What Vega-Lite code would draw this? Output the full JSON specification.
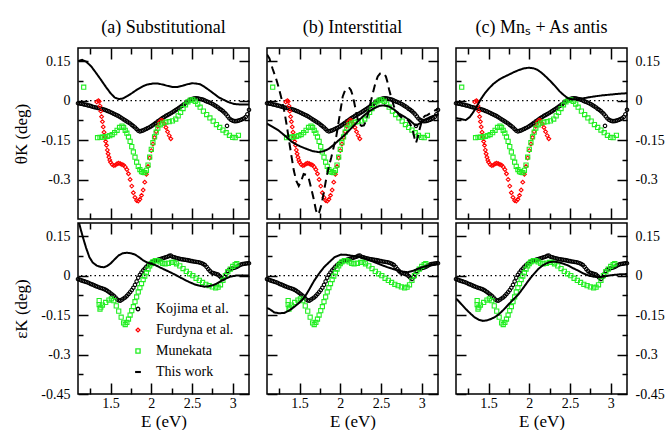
{
"$schema": "https://vega.github.io/schema/vega-lite/v6.json",
"padding": {"left": 12, "top": 18, "right": 2, "bottom": 0},
"config": {
 "font": "Liberation Serif",
 "style": {"guide-label": {"font": "Liberation Serif", "fontSize": 14, "fill": "black"}, "guide-title": {"font": "Liberation Serif", "fontSize": 17, "fill": "black", "fontWeight": "normal"}, "group-title": {"font": "Liberation Serif", "fontSize": 18, "fontWeight": "normal"}},
 "view": {"stroke": "black", "strokeWidth": 1.5},
 "axis": {"domain": false, "grid": false, "tickColor": "black", "tickWidth": 1.5, "labelFont": "Liberation Serif", "labelFontSize": 14, "labelColor": "black", "titleFont": "Liberation Serif", "titleFontSize": 17, "titleFontWeight": "normal", "titleColor": "black", "labelOverlap": false, "labelFlush": false, "minExtent": 0},
 "title": {"font": "Liberation Serif", "fontSize": 18, "fontWeight": "normal", "color": "black", "offset": 10},
 "legend": {"labelFont": "Liberation Serif", "labelFontSize": 14, "labelColor": "black", "rowPadding": 7, "symbolStrokeWidth": 1.3, "padding": 0}
},
"datasets": {
 "expT": [
  {"s":"K","E":1.10,"v":-0.010},{"s":"K","E":1.12,"v":-0.011},{"s":"K","E":1.14,"v":-0.012},{"s":"K","E":1.16,"v":-0.013},{"s":"K","E":1.18,"v":-0.015},{"s":"K","E":1.20,"v":-0.016},{"s":"K","E":1.22,"v":-0.018},{"s":"K","E":1.24,"v":-0.019},{"s":"K","E":1.26,"v":-0.021},{"s":"K","E":1.28,"v":-0.023},{"s":"K","E":1.30,"v":-0.025},{"s":"K","E":1.32,"v":-0.026},{"s":"K","E":1.34,"v":-0.028},{"s":"K","E":1.36,"v":-0.029},{"s":"K","E":1.38,"v":-0.031},{"s":"K","E":1.40,"v":-0.032},{"s":"K","E":1.42,"v":-0.034},{"s":"K","E":1.44,"v":-0.036},{"s":"K","E":1.46,"v":-0.039},{"s":"K","E":1.48,"v":-0.041},{"s":"K","E":1.50,"v":-0.044},{"s":"K","E":1.52,"v":-0.047},{"s":"K","E":1.54,"v":-0.050},{"s":"K","E":1.56,"v":-0.053},{"s":"K","E":1.58,"v":-0.056},{"s":"K","E":1.60,"v":-0.059},{"s":"K","E":1.62,"v":-0.063},{"s":"K","E":1.64,"v":-0.067},{"s":"K","E":1.66,"v":-0.071},{"s":"K","E":1.68,"v":-0.075},{"s":"K","E":1.70,"v":-0.079},{"s":"K","E":1.72,"v":-0.083},{"s":"K","E":1.74,"v":-0.087},{"s":"K","E":1.76,"v":-0.092},{"s":"K","E":1.78,"v":-0.097},{"s":"K","E":1.80,"v":-0.102},{"s":"K","E":1.82,"v":-0.108},{"s":"K","E":1.84,"v":-0.114},{"s":"K","E":1.86,"v":-0.117},{"s":"K","E":1.88,"v":-0.115},{"s":"K","E":1.90,"v":-0.113},{"s":"K","E":1.92,"v":-0.110},{"s":"K","E":1.94,"v":-0.107},{"s":"K","E":1.96,"v":-0.104},{"s":"K","E":1.98,"v":-0.101},{"s":"K","E":2.00,"v":-0.097},{"s":"K","E":2.02,"v":-0.093},{"s":"K","E":2.04,"v":-0.088},{"s":"K","E":2.06,"v":-0.084},{"s":"K","E":2.08,"v":-0.079},{"s":"K","E":2.10,"v":-0.075},{"s":"K","E":2.12,"v":-0.070},{"s":"K","E":2.14,"v":-0.066},{"s":"K","E":2.16,"v":-0.062},{"s":"K","E":2.18,"v":-0.058},{"s":"K","E":2.20,"v":-0.055},{"s":"K","E":2.22,"v":-0.051},{"s":"K","E":2.24,"v":-0.048},{"s":"K","E":2.26,"v":-0.044},{"s":"K","E":2.28,"v":-0.040},{"s":"K","E":2.30,"v":-0.036},{"s":"K","E":2.32,"v":-0.032},{"s":"K","E":2.34,"v":-0.028},{"s":"K","E":2.36,"v":-0.023},{"s":"K","E":2.38,"v":-0.019},{"s":"K","E":2.40,"v":-0.014},{"s":"K","E":2.42,"v":-0.010},{"s":"K","E":2.44,"v":-0.005},{"s":"K","E":2.46,"v":0.000},{"s":"K","E":2.48,"v":0.004},{"s":"K","E":2.50,"v":0.006},{"s":"K","E":2.52,"v":0.008},{"s":"K","E":2.54,"v":0.009},{"s":"K","E":2.56,"v":0.009},{"s":"K","E":2.58,"v":0.008},{"s":"K","E":2.60,"v":0.006},{"s":"K","E":2.62,"v":0.005},{"s":"K","E":2.64,"v":0.003},{"s":"K","E":2.66,"v":0.000},{"s":"K","E":2.68,"v":-0.003},{"s":"K","E":2.70,"v":-0.005},{"s":"K","E":2.72,"v":-0.008},{"s":"K","E":2.74,"v":-0.011},{"s":"K","E":2.76,"v":-0.014},{"s":"K","E":2.78,"v":-0.018},{"s":"K","E":2.80,"v":-0.022},{"s":"K","E":2.82,"v":-0.026},{"s":"K","E":2.84,"v":-0.031},{"s":"K","E":2.86,"v":-0.035},{"s":"K","E":2.88,"v":-0.040},{"s":"K","E":2.90,"v":-0.046},{"s":"K","E":2.92,"v":-0.052},{"s":"K","E":2.93,"v":-0.096},{"s":"K","E":2.94,"v":-0.060},{"s":"K","E":2.96,"v":-0.068},{"s":"K","E":2.98,"v":-0.073},{"s":"K","E":3.00,"v":-0.076},{"s":"K","E":3.02,"v":-0.078},{"s":"K","E":3.04,"v":-0.078},{"s":"K","E":3.06,"v":-0.077},{"s":"K","E":3.08,"v":-0.075},{"s":"K","E":3.10,"v":-0.073},{"s":"K","E":3.12,"v":-0.070},{"s":"K","E":3.14,"v":-0.067},{"s":"K","E":3.16,"v":-0.062},{"s":"K","E":3.18,"v":-0.052},{"s":"K","E":3.20,"v":-0.035},
  {"s":"F","E":1.33,"v":-0.005},{"s":"F","E":1.35,"v":0.0},{"s":"F","E":1.36,"v":-0.003},{"s":"F","E":1.37,"v":-0.02},{"s":"F","E":1.38,"v":-0.04},{"s":"F","E":1.39,"v":-0.061},{"s":"F","E":1.40,"v":-0.08},{"s":"F","E":1.41,"v":-0.10},{"s":"F","E":1.42,"v":-0.12},{"s":"F","E":1.43,"v":-0.138},{"s":"F","E":1.44,"v":-0.155},{"s":"F","E":1.45,"v":-0.17},{"s":"F","E":1.46,"v":-0.188},{"s":"F","E":1.47,"v":-0.202},{"s":"F","E":1.48,"v":-0.215},{"s":"F","E":1.49,"v":-0.226},{"s":"F","E":1.50,"v":-0.234},{"s":"F","E":1.52,"v":-0.243},{"s":"F","E":1.54,"v":-0.247},{"s":"F","E":1.56,"v":-0.245},{"s":"F","E":1.58,"v":-0.240},{"s":"F","E":1.60,"v":-0.238},{"s":"F","E":1.62,"v":-0.240},{"s":"F","E":1.64,"v":-0.243},{"s":"F","E":1.66,"v":-0.245},{"s":"F","E":1.68,"v":-0.252},{"s":"F","E":1.70,"v":-0.262},{"s":"F","E":1.72,"v":-0.278},{"s":"F","E":1.74,"v":-0.300},{"s":"F","E":1.76,"v":-0.325},{"s":"F","E":1.78,"v":-0.350},{"s":"F","E":1.80,"v":-0.368},{"s":"F","E":1.82,"v":-0.380},{"s":"F","E":1.84,"v":-0.382},{"s":"F","E":1.86,"v":-0.375},{"s":"F","E":1.88,"v":-0.360},{"s":"F","E":1.90,"v":-0.340},{"s":"F","E":1.92,"v":-0.310},{"s":"F","E":1.94,"v":-0.280},{"s":"F","E":1.96,"v":-0.250},{"s":"F","E":1.98,"v":-0.218},{"s":"F","E":2.00,"v":-0.190},{"s":"F","E":2.02,"v":-0.165},{"s":"F","E":2.04,"v":-0.140},{"s":"F","E":2.06,"v":-0.118},{"s":"F","E":2.08,"v":-0.098},{"s":"F","E":2.10,"v":-0.082},{"s":"F","E":2.12,"v":-0.074},{"s":"F","E":2.14,"v":-0.076},{"s":"F","E":2.16,"v":-0.088},{"s":"F","E":2.18,"v":-0.102},{"s":"F","E":2.20,"v":-0.118},{"s":"F","E":2.22,"v":-0.133},{"s":"F","E":2.24,"v":-0.145},
  {"s":"M","E":1.17,"v":0.051},{"s":"M","E":1.34,"v":-0.141},{"s":"M","E":1.37,"v":-0.140},{"s":"M","E":1.40,"v":-0.139},{"s":"M","E":1.43,"v":-0.138},{"s":"M","E":1.46,"v":-0.136},{"s":"M","E":1.49,"v":-0.133},{"s":"M","E":1.52,"v":-0.129},{"s":"M","E":1.55,"v":-0.122},{"s":"M","E":1.58,"v":-0.113},{"s":"M","E":1.61,"v":-0.102},{"s":"M","E":1.64,"v":-0.097},{"s":"M","E":1.66,"v":-0.102},{"s":"M","E":1.68,"v":-0.113},{"s":"M","E":1.70,"v":-0.124},{"s":"M","E":1.72,"v":-0.138},{"s":"M","E":1.74,"v":-0.155},{"s":"M","E":1.76,"v":-0.175},{"s":"M","E":1.78,"v":-0.195},{"s":"M","E":1.80,"v":-0.215},{"s":"M","E":1.82,"v":-0.234},{"s":"M","E":1.84,"v":-0.250},{"s":"M","E":1.86,"v":-0.262},{"s":"M","E":1.88,"v":-0.270},{"s":"M","E":1.90,"v":-0.273},{"s":"M","E":1.92,"v":-0.274},{"s":"M","E":1.94,"v":-0.265},{"s":"M","E":1.96,"v":-0.245},{"s":"M","E":1.98,"v":-0.215},{"s":"M","E":2.00,"v":-0.185},{"s":"M","E":2.02,"v":-0.160},{"s":"M","E":2.04,"v":-0.138},{"s":"M","E":2.06,"v":-0.120},{"s":"M","E":2.08,"v":-0.105},{"s":"M","E":2.11,"v":-0.092},{"s":"M","E":2.14,"v":-0.086},{"s":"M","E":2.18,"v":-0.082},{"s":"M","E":2.22,"v":-0.080},{"s":"M","E":2.26,"v":-0.077},{"s":"M","E":2.30,"v":-0.070},{"s":"M","E":2.33,"v":-0.058},{"s":"M","E":2.36,"v":-0.045},{"s":"M","E":2.39,"v":-0.030},{"s":"M","E":2.42,"v":-0.016},{"s":"M","E":2.45,"v":-0.005},{"s":"M","E":2.48,"v":0.002},{"s":"M","E":2.51,"v":0.003},{"s":"M","E":2.54,"v":-0.003},{"s":"M","E":2.57,"v":-0.013},{"s":"M","E":2.60,"v":-0.025},{"s":"M","E":2.64,"v":-0.040},{"s":"M","E":2.68,"v":-0.053},{"s":"M","E":2.72,"v":-0.066},{"s":"M","E":2.76,"v":-0.078},{"s":"M","E":2.80,"v":-0.091},{"s":"M","E":2.84,"v":-0.102},{"s":"M","E":2.88,"v":-0.112},{"s":"M","E":2.92,"v":-0.122},{"s":"M","E":2.96,"v":-0.132},{"s":"M","E":3.00,"v":-0.140},{"s":"M","E":3.03,"v":-0.141},{"s":"M","E":3.07,"v":-0.132}
 ],
 "expB": [
  {"s":"K","E":1.10,"v":-0.013},{"s":"K","E":1.12,"v":-0.015},{"s":"K","E":1.14,"v":-0.018},{"s":"K","E":1.16,"v":-0.020},{"s":"K","E":1.18,"v":-0.022},{"s":"K","E":1.20,"v":-0.024},{"s":"K","E":1.22,"v":-0.026},{"s":"K","E":1.24,"v":-0.029},{"s":"K","E":1.26,"v":-0.032},{"s":"K","E":1.28,"v":-0.034},{"s":"K","E":1.30,"v":-0.037},{"s":"K","E":1.32,"v":-0.040},{"s":"K","E":1.34,"v":-0.042},{"s":"K","E":1.36,"v":-0.045},{"s":"K","E":1.38,"v":-0.047},{"s":"K","E":1.40,"v":-0.049},{"s":"K","E":1.42,"v":-0.051},{"s":"K","E":1.44,"v":-0.054},{"s":"K","E":1.46,"v":-0.058},{"s":"K","E":1.48,"v":-0.062},{"s":"K","E":1.50,"v":-0.067},{"s":"K","E":1.52,"v":-0.072},{"s":"K","E":1.54,"v":-0.077},{"s":"K","E":1.56,"v":-0.083},{"s":"K","E":1.58,"v":-0.090},{"s":"K","E":1.60,"v":-0.094},{"s":"K","E":1.62,"v":-0.095},{"s":"K","E":1.64,"v":-0.091},{"s":"K","E":1.66,"v":-0.087},{"s":"K","E":1.68,"v":-0.083},{"s":"K","E":1.70,"v":-0.077},{"s":"K","E":1.72,"v":-0.070},{"s":"K","E":1.74,"v":-0.063},{"s":"K","E":1.76,"v":-0.055},{"s":"K","E":1.78,"v":-0.046},{"s":"K","E":1.80,"v":-0.035},{"s":"K","E":1.82,"v":-0.022},{"s":"K","E":1.84,"v":-0.008},{"s":"K","E":1.86,"v":0.003},{"s":"K","E":1.88,"v":0.012},{"s":"K","E":1.90,"v":0.020},{"s":"K","E":1.92,"v":0.027},{"s":"K","E":1.94,"v":0.034},{"s":"K","E":1.96,"v":0.040},{"s":"K","E":1.98,"v":0.045},{"s":"K","E":2.00,"v":0.050},{"s":"K","E":2.02,"v":0.053},{"s":"K","E":2.04,"v":0.055},{"s":"K","E":2.06,"v":0.058},{"s":"K","E":2.08,"v":0.060},{"s":"K","E":2.10,"v":0.062},{"s":"K","E":2.12,"v":0.064},{"s":"K","E":2.14,"v":0.066},{"s":"K","E":2.16,"v":0.068},{"s":"K","E":2.18,"v":0.070},{"s":"K","E":2.20,"v":0.072},{"s":"K","E":2.22,"v":0.075},{"s":"K","E":2.24,"v":0.076},{"s":"K","E":2.26,"v":0.072},{"s":"K","E":2.28,"v":0.070},{"s":"K","E":2.30,"v":0.068},{"s":"K","E":2.32,"v":0.066},{"s":"K","E":2.34,"v":0.065},{"s":"K","E":2.36,"v":0.063},{"s":"K","E":2.38,"v":0.062},{"s":"K","E":2.40,"v":0.061},{"s":"K","E":2.42,"v":0.060},{"s":"K","E":2.44,"v":0.059},{"s":"K","E":2.46,"v":0.058},{"s":"K","E":2.48,"v":0.056},{"s":"K","E":2.50,"v":0.055},{"s":"K","E":2.52,"v":0.054},{"s":"K","E":2.54,"v":0.053},{"s":"K","E":2.56,"v":0.052},{"s":"K","E":2.58,"v":0.051},{"s":"K","E":2.60,"v":0.049},{"s":"K","E":2.62,"v":0.047},{"s":"K","E":2.64,"v":0.044},{"s":"K","E":2.66,"v":0.040},{"s":"K","E":2.68,"v":0.033},{"s":"K","E":2.70,"v":0.025},{"s":"K","E":2.72,"v":0.018},{"s":"K","E":2.74,"v":0.012},{"s":"K","E":2.76,"v":0.010},{"s":"K","E":2.78,"v":0.008},{"s":"K","E":2.80,"v":0.006},{"s":"K","E":2.82,"v":0.004},{"s":"K","E":2.84,"v":-0.002},{"s":"K","E":2.86,"v":-0.008},{"s":"K","E":2.88,"v":-0.013},{"s":"K","E":2.90,"v":-0.006},{"s":"K","E":2.92,"v":0.006},{"s":"K","E":2.94,"v":0.018},{"s":"K","E":2.96,"v":0.023},{"s":"K","E":2.98,"v":0.026},{"s":"K","E":3.00,"v":0.028},{"s":"K","E":3.02,"v":0.030},{"s":"K","E":3.04,"v":0.032},{"s":"K","E":3.06,"v":0.035},{"s":"K","E":3.08,"v":0.039},{"s":"K","E":3.10,"v":0.042},{"s":"K","E":3.12,"v":0.044},{"s":"K","E":3.14,"v":0.045},{"s":"K","E":3.16,"v":0.046},{"s":"K","E":3.18,"v":0.047},{"s":"K","E":3.20,"v":0.047},
  {"s":"M","E":1.36,"v":-0.095},{"s":"M","E":1.36,"v":-0.110},{"s":"M","E":1.37,"v":-0.127},{"s":"M","E":1.38,"v":-0.120},{"s":"M","E":1.40,"v":-0.112},{"s":"M","E":1.44,"v":-0.102},{"s":"M","E":1.48,"v":-0.093},{"s":"M","E":1.51,"v":-0.088},{"s":"M","E":1.54,"v":-0.095},{"s":"M","E":1.57,"v":-0.115},{"s":"M","E":1.60,"v":-0.135},{"s":"M","E":1.63,"v":-0.158},{"s":"M","E":1.66,"v":-0.180},{"s":"M","E":1.68,"v":-0.186},{"s":"M","E":1.70,"v":-0.178},{"s":"M","E":1.72,"v":-0.165},{"s":"M","E":1.74,"v":-0.150},{"s":"M","E":1.76,"v":-0.133},{"s":"M","E":1.78,"v":-0.118},{"s":"M","E":1.80,"v":-0.099},{"s":"M","E":1.82,"v":-0.081},{"s":"M","E":1.84,"v":-0.062},{"s":"M","E":1.86,"v":-0.046},{"s":"M","E":1.88,"v":-0.030},{"s":"M","E":1.90,"v":-0.015},{"s":"M","E":1.92,"v":-0.002},{"s":"M","E":1.94,"v":0.011},{"s":"M","E":1.96,"v":0.025},{"s":"M","E":1.98,"v":0.037},{"s":"M","E":2.00,"v":0.046},{"s":"M","E":2.02,"v":0.052},{"s":"M","E":2.05,"v":0.057},{"s":"M","E":2.08,"v":0.057},{"s":"M","E":2.11,"v":0.052},{"s":"M","E":2.14,"v":0.047},{"s":"M","E":2.17,"v":0.045},{"s":"M","E":2.21,"v":0.047},{"s":"M","E":2.25,"v":0.050},{"s":"M","E":2.28,"v":0.050},{"s":"M","E":2.31,"v":0.045},{"s":"M","E":2.35,"v":0.037},{"s":"M","E":2.39,"v":0.027},{"s":"M","E":2.43,"v":0.016},{"s":"M","E":2.47,"v":0.007},{"s":"M","E":2.51,"v":0.000},{"s":"M","E":2.55,"v":-0.010},{"s":"M","E":2.59,"v":-0.018},{"s":"M","E":2.63,"v":-0.026},{"s":"M","E":2.67,"v":-0.033},{"s":"M","E":2.71,"v":-0.038},{"s":"M","E":2.75,"v":-0.043},{"s":"M","E":2.79,"v":-0.047},{"s":"M","E":2.82,"v":-0.044},{"s":"M","E":2.85,"v":-0.035},{"s":"M","E":2.88,"v":-0.018},{"s":"M","E":2.91,"v":0.000},{"s":"M","E":2.94,"v":0.015},{"s":"M","E":2.97,"v":0.025},{"s":"M","E":3.00,"v":0.035},{"s":"M","E":3.03,"v":0.042},{"s":"M","E":3.05,"v":0.046}
 ],
 "calc": [
  {"p":"a1","k":"solid","E":1.10,"v":0.150},{"p":"a1","k":"solid","E":1.15,"v":0.155},{"p":"a1","k":"solid","E":1.20,"v":0.148},{"p":"a1","k":"solid","E":1.26,"v":0.131},{"p":"a1","k":"solid","E":1.32,"v":0.106},{"p":"a1","k":"solid","E":1.38,"v":0.080},{"p":"a1","k":"solid","E":1.44,"v":0.053},{"p":"a1","k":"solid","E":1.50,"v":0.028},{"p":"a1","k":"solid","E":1.55,"v":0.012},{"p":"a1","k":"solid","E":1.60,"v":0.006},{"p":"a1","k":"solid","E":1.65,"v":0.008},{"p":"a1","k":"solid","E":1.71,"v":0.018},{"p":"a1","k":"solid","E":1.77,"v":0.030},{"p":"a1","k":"solid","E":1.83,"v":0.043},{"p":"a1","k":"solid","E":1.90,"v":0.055},{"p":"a1","k":"solid","E":1.95,"v":0.061},{"p":"a1","k":"solid","E":2.02,"v":0.065},{"p":"a1","k":"solid","E":2.08,"v":0.065},{"p":"a1","k":"solid","E":2.14,"v":0.061},{"p":"a1","k":"solid","E":2.20,"v":0.056},{"p":"a1","k":"solid","E":2.26,"v":0.052},{"p":"a1","k":"solid","E":2.32,"v":0.052},{"p":"a1","k":"solid","E":2.38,"v":0.056},{"p":"a1","k":"solid","E":2.44,"v":0.062},{"p":"a1","k":"solid","E":2.50,"v":0.066},{"p":"a1","k":"solid","E":2.55,"v":0.065},{"p":"a1","k":"solid","E":2.60,"v":0.062},{"p":"a1","k":"solid","E":2.65,"v":0.053},{"p":"a1","k":"solid","E":2.71,"v":0.040},{"p":"a1","k":"solid","E":2.77,"v":0.026},{"p":"a1","k":"solid","E":2.83,"v":0.012},{"p":"a1","k":"solid","E":2.89,"v":0.003},{"p":"a1","k":"solid","E":2.95,"v":-0.006},{"p":"a1","k":"solid","E":3.02,"v":-0.013},{"p":"a1","k":"solid","E":3.10,"v":-0.015},{"p":"a1","k":"solid","E":3.20,"v":-0.015},
  {"p":"b1","k":"solid","E":1.10,"v":-0.087},{"p":"b1","k":"solid","E":1.17,"v":-0.100},{"p":"b1","k":"solid","E":1.24,"v":-0.113},{"p":"b1","k":"solid","E":1.33,"v":-0.136},{"p":"b1","k":"solid","E":1.41,"v":-0.158},{"p":"b1","k":"solid","E":1.50,"v":-0.173},{"p":"b1","k":"solid","E":1.58,"v":-0.183},{"p":"b1","k":"solid","E":1.66,"v":-0.192},{"p":"b1","k":"solid","E":1.74,"v":-0.196},{"p":"b1","k":"solid","E":1.80,"v":-0.192},{"p":"b1","k":"solid","E":1.86,"v":-0.183},{"p":"b1","k":"solid","E":1.92,"v":-0.168},{"p":"b1","k":"solid","E":1.98,"v":-0.151},{"p":"b1","k":"solid","E":2.05,"v":-0.132},{"p":"b1","k":"solid","E":2.11,"v":-0.113},{"p":"b1","k":"solid","E":2.17,"v":-0.094},{"p":"b1","k":"solid","E":2.23,"v":-0.074},{"p":"b1","k":"solid","E":2.29,"v":-0.057},{"p":"b1","k":"solid","E":2.35,"v":-0.042},{"p":"b1","k":"solid","E":2.41,"v":-0.030},{"p":"b1","k":"solid","E":2.48,"v":-0.020},{"p":"b1","k":"solid","E":2.54,"v":-0.018},{"p":"b1","k":"solid","E":2.60,"v":-0.023},{"p":"b1","k":"solid","E":2.66,"v":-0.034},{"p":"b1","k":"solid","E":2.72,"v":-0.049},{"p":"b1","k":"solid","E":2.79,"v":-0.062},{"p":"b1","k":"solid","E":2.85,"v":-0.074},{"p":"b1","k":"solid","E":2.90,"v":-0.088},{"p":"b1","k":"solid","E":2.93,"v":-0.094},{"p":"b1","k":"solid","E":2.97,"v":-0.088},{"p":"b1","k":"solid","E":3.03,"v":-0.074},{"p":"b1","k":"solid","E":3.10,"v":-0.063},{"p":"b1","k":"solid","E":3.17,"v":-0.055},{"p":"b1","k":"solid","E":3.20,"v":-0.053},
  {"p":"b1","k":"dashed","E":1.10,"v":0.175},{"p":"b1","k":"dashed","E":1.13,"v":0.16},{"p":"b1","k":"dashed","E":1.17,"v":0.12},{"p":"b1","k":"dashed","E":1.21,"v":0.085},{"p":"b1","k":"dashed","E":1.24,"v":0.054},{"p":"b1","k":"dashed","E":1.28,"v":0.005},{"p":"b1","k":"dashed","E":1.31,"v":-0.036},{"p":"b1","k":"dashed","E":1.34,"v":-0.09},{"p":"b1","k":"dashed","E":1.37,"v":-0.151},{"p":"b1","k":"dashed","E":1.40,"v":-0.21},{"p":"b1","k":"dashed","E":1.43,"v":-0.267},{"p":"b1","k":"dashed","E":1.46,"v":-0.305},{"p":"b1","k":"dashed","E":1.49,"v":-0.324},{"p":"b1","k":"dashed","E":1.52,"v":-0.305},{"p":"b1","k":"dashed","E":1.55,"v":-0.279},{"p":"b1","k":"dashed","E":1.58,"v":-0.282},{"p":"b1","k":"dashed","E":1.61,"v":-0.292},{"p":"b1","k":"dashed","E":1.64,"v":-0.33},{"p":"b1","k":"dashed","E":1.67,"v":-0.369},{"p":"b1","k":"dashed","E":1.70,"v":-0.415},{"p":"b1","k":"dashed","E":1.72,"v":-0.433},{"p":"b1","k":"dashed","E":1.74,"v":-0.425},{"p":"b1","k":"dashed","E":1.77,"v":-0.394},{"p":"b1","k":"dashed","E":1.80,"v":-0.345},{"p":"b1","k":"dashed","E":1.83,"v":-0.292},{"p":"b1","k":"dashed","E":1.86,"v":-0.25},{"p":"b1","k":"dashed","E":1.89,"v":-0.215},{"p":"b1","k":"dashed","E":1.92,"v":-0.175},{"p":"b1","k":"dashed","E":1.95,"v":-0.138},{"p":"b1","k":"dashed","E":1.99,"v":-0.061},{"p":"b1","k":"dashed","E":2.03,"v":0.016},{"p":"b1","k":"dashed","E":2.06,"v":0.040},{"p":"b1","k":"dashed","E":2.09,"v":0.048},{"p":"b1","k":"dashed","E":2.11,"v":0.048},{"p":"b1","k":"dashed","E":2.13,"v":0.040},{"p":"b1","k":"dashed","E":2.15,"v":0.022},{"p":"b1","k":"dashed","E":2.17,"v":-0.005},{"p":"b1","k":"dashed","E":2.19,"v":-0.036},{"p":"b1","k":"dashed","E":2.21,"v":-0.065},{"p":"b1","k":"dashed","E":2.23,"v":-0.087},{"p":"b1","k":"dashed","E":2.26,"v":-0.096},{"p":"b1","k":"dashed","E":2.29,"v":-0.094},{"p":"b1","k":"dashed","E":2.32,"v":-0.075},{"p":"b1","k":"dashed","E":2.34,"v":-0.049},{"p":"b1","k":"dashed","E":2.37,"v":-0.010},{"p":"b1","k":"dashed","E":2.40,"v":0.028},{"p":"b1","k":"dashed","E":2.43,"v":0.065},{"p":"b1","k":"dashed","E":2.46,"v":0.092},{"p":"b1","k":"dashed","E":2.49,"v":0.103},{"p":"b1","k":"dashed","E":2.52,"v":0.105},{"p":"b1","k":"dashed","E":2.54,"v":0.100},{"p":"b1","k":"dashed","E":2.56,"v":0.092},{"p":"b1","k":"dashed","E":2.58,"v":0.070},{"p":"b1","k":"dashed","E":2.60,"v":0.041},{"p":"b1","k":"dashed","E":2.63,"v":0.008},{"p":"b1","k":"dashed","E":2.66,"v":-0.023},{"p":"b1","k":"dashed","E":2.70,"v":-0.045},{"p":"b1","k":"dashed","E":2.74,"v":-0.061},{"p":"b1","k":"dashed","E":2.78,"v":-0.068},{"p":"b1","k":"dashed","E":2.83,"v":-0.074},{"p":"b1","k":"dashed","E":2.86,"v":-0.090},{"p":"b1","k":"dashed","E":2.89,"v":-0.113},{"p":"b1","k":"dashed","E":2.91,"v":-0.140},{"p":"b1","k":"dashed","E":2.93,"v":-0.161},{"p":"b1","k":"dashed","E":2.95,"v":-0.140},{"p":"b1","k":"dashed","E":2.97,"v":-0.113},{"p":"b1","k":"dashed","E":3.01,"v":-0.068},{"p":"b1","k":"dashed","E":3.04,"v":-0.058},{"p":"b1","k":"dashed","E":3.07,"v":-0.055},{"p":"b1","k":"dashed","E":3.12,"v":-0.045},{"p":"b1","k":"dashed","E":3.17,"v":-0.036},{"p":"b1","k":"dashed","E":3.20,"v":-0.032},
  {"p":"c1","k":"solid","E":1.10,"v":-0.066},{"p":"c1","k":"solid","E":1.16,"v":-0.070},{"p":"c1","k":"solid","E":1.22,"v":-0.074},{"p":"c1","k":"solid","E":1.27,"v":-0.062},{"p":"c1","k":"solid","E":1.31,"v":-0.045},{"p":"c1","k":"solid","E":1.36,"v":-0.020},{"p":"c1","k":"solid","E":1.40,"v":0.003},{"p":"c1","k":"solid","E":1.45,"v":0.026},{"p":"c1","k":"solid","E":1.50,"v":0.045},{"p":"c1","k":"solid","E":1.56,"v":0.064},{"p":"c1","k":"solid","E":1.63,"v":0.080},{"p":"c1","k":"solid","E":1.69,"v":0.090},{"p":"c1","k":"solid","E":1.75,"v":0.099},{"p":"c1","k":"solid","E":1.81,"v":0.108},{"p":"c1","k":"solid","E":1.87,"v":0.116},{"p":"c1","k":"solid","E":1.93,"v":0.122},{"p":"c1","k":"solid","E":1.99,"v":0.125},{"p":"c1","k":"solid","E":2.05,"v":0.123},{"p":"c1","k":"solid","E":2.10,"v":0.117},{"p":"c1","k":"solid","E":2.15,"v":0.106},{"p":"c1","k":"solid","E":2.20,"v":0.092},{"p":"c1","k":"solid","E":2.26,"v":0.074},{"p":"c1","k":"solid","E":2.32,"v":0.054},{"p":"c1","k":"solid","E":2.37,"v":0.036},{"p":"c1","k":"solid","E":2.42,"v":0.022},{"p":"c1","k":"solid","E":2.47,"v":0.010},{"p":"c1","k":"solid","E":2.52,"v":0.005},{"p":"c1","k":"solid","E":2.58,"v":0.005},{"p":"c1","k":"solid","E":2.65,"v":0.008},{"p":"c1","k":"solid","E":2.72,"v":0.012},{"p":"c1","k":"solid","E":2.80,"v":0.016},{"p":"c1","k":"solid","E":2.90,"v":0.020},{"p":"c1","k":"solid","E":3.00,"v":0.023},{"p":"c1","k":"solid","E":3.10,"v":0.026},{"p":"c1","k":"solid","E":3.20,"v":0.028},
  {"p":"a2","k":"solid","E":1.10,"v":0.215},{"p":"a2","k":"solid","E":1.13,"v":0.18},{"p":"a2","k":"solid","E":1.16,"v":0.146},{"p":"a2","k":"solid","E":1.20,"v":0.105},{"p":"a2","k":"solid","E":1.24,"v":0.070},{"p":"a2","k":"solid","E":1.28,"v":0.050},{"p":"a2","k":"solid","E":1.33,"v":0.038},{"p":"a2","k":"solid","E":1.38,"v":0.033},{"p":"a2","k":"solid","E":1.42,"v":0.032},{"p":"a2","k":"solid","E":1.46,"v":0.037},{"p":"a2","k":"solid","E":1.50,"v":0.046},{"p":"a2","k":"solid","E":1.55,"v":0.062},{"p":"a2","k":"solid","E":1.60,"v":0.077},{"p":"a2","k":"solid","E":1.65,"v":0.085},{"p":"a2","k":"solid","E":1.70,"v":0.087},{"p":"a2","k":"solid","E":1.75,"v":0.085},{"p":"a2","k":"solid","E":1.80,"v":0.080},{"p":"a2","k":"solid","E":1.85,"v":0.070},{"p":"a2","k":"solid","E":1.90,"v":0.058},{"p":"a2","k":"solid","E":1.95,"v":0.050},{"p":"a2","k":"solid","E":2.00,"v":0.045},{"p":"a2","k":"solid","E":2.05,"v":0.040},{"p":"a2","k":"solid","E":2.10,"v":0.032},{"p":"a2","k":"solid","E":2.17,"v":0.022},{"p":"a2","k":"solid","E":2.23,"v":0.013},{"p":"a2","k":"solid","E":2.29,"v":0.004},{"p":"a2","k":"solid","E":2.35,"v":-0.006},{"p":"a2","k":"solid","E":2.41,"v":-0.016},{"p":"a2","k":"solid","E":2.47,"v":-0.025},{"p":"a2","k":"solid","E":2.53,"v":-0.033},{"p":"a2","k":"solid","E":2.59,"v":-0.038},{"p":"a2","k":"solid","E":2.65,"v":-0.042},{"p":"a2","k":"solid","E":2.70,"v":-0.041},{"p":"a2","k":"solid","E":2.75,"v":-0.037},{"p":"a2","k":"solid","E":2.80,"v":-0.031},{"p":"a2","k":"solid","E":2.86,"v":-0.020},{"p":"a2","k":"solid","E":2.91,"v":-0.012},{"p":"a2","k":"solid","E":2.97,"v":-0.004},{"p":"a2","k":"solid","E":3.04,"v":0.000},{"p":"a2","k":"solid","E":3.12,"v":0.001},{"p":"a2","k":"solid","E":3.20,"v":0.000},
  {"p":"b2","k":"solid","E":1.10,"v":-0.123},{"p":"b2","k":"solid","E":1.13,"v":-0.127},{"p":"b2","k":"solid","E":1.19,"v":-0.140},{"p":"b2","k":"solid","E":1.25,"v":-0.143},{"p":"b2","k":"solid","E":1.31,"v":-0.142},{"p":"b2","k":"solid","E":1.37,"v":-0.133},{"p":"b2","k":"solid","E":1.43,"v":-0.120},{"p":"b2","k":"solid","E":1.50,"v":-0.102},{"p":"b2","k":"solid","E":1.56,"v":-0.083},{"p":"b2","k":"solid","E":1.62,"v":-0.052},{"p":"b2","k":"solid","E":1.68,"v":-0.019},{"p":"b2","k":"solid","E":1.74,"v":0.008},{"p":"b2","k":"solid","E":1.80,"v":0.032},{"p":"b2","k":"solid","E":1.87,"v":0.053},{"p":"b2","k":"solid","E":1.93,"v":0.070},{"p":"b2","k":"solid","E":2.01,"v":0.080},{"p":"b2","k":"solid","E":2.07,"v":0.079},{"p":"b2","k":"solid","E":2.13,"v":0.076},{"p":"b2","k":"solid","E":2.20,"v":0.073},{"p":"b2","k":"solid","E":2.26,"v":0.070},{"p":"b2","k":"solid","E":2.34,"v":0.061},{"p":"b2","k":"solid","E":2.42,"v":0.051},{"p":"b2","k":"solid","E":2.50,"v":0.041},{"p":"b2","k":"solid","E":2.58,"v":0.032},{"p":"b2","k":"solid","E":2.65,"v":0.025},{"p":"b2","k":"solid","E":2.71,"v":0.019},{"p":"b2","k":"solid","E":2.77,"v":0.015},{"p":"b2","k":"solid","E":2.83,"v":0.013},{"p":"b2","k":"solid","E":2.89,"v":0.018},{"p":"b2","k":"solid","E":2.95,"v":0.025},{"p":"b2","k":"solid","E":3.01,"v":0.032},{"p":"b2","k":"solid","E":3.07,"v":0.038},{"p":"b2","k":"solid","E":3.14,"v":0.042},{"p":"b2","k":"solid","E":3.20,"v":0.045},
  {"p":"c2","k":"solid","E":1.10,"v":-0.088},{"p":"c2","k":"solid","E":1.12,"v":-0.093},{"p":"c2","k":"solid","E":1.17,"v":-0.110},{"p":"c2","k":"solid","E":1.22,"v":-0.127},{"p":"c2","k":"solid","E":1.28,"v":-0.145},{"p":"c2","k":"solid","E":1.33,"v":-0.159},{"p":"c2","k":"solid","E":1.38,"v":-0.168},{"p":"c2","k":"solid","E":1.43,"v":-0.172},{"p":"c2","k":"solid","E":1.48,"v":-0.170},{"p":"c2","k":"solid","E":1.53,"v":-0.165},{"p":"c2","k":"solid","E":1.58,"v":-0.157},{"p":"c2","k":"solid","E":1.63,"v":-0.146},{"p":"c2","k":"solid","E":1.69,"v":-0.128},{"p":"c2","k":"solid","E":1.75,"v":-0.108},{"p":"c2","k":"solid","E":1.81,"v":-0.089},{"p":"c2","k":"solid","E":1.87,"v":-0.070},{"p":"c2","k":"solid","E":1.93,"v":-0.045},{"p":"c2","k":"solid","E":1.99,"v":-0.019},{"p":"c2","k":"solid","E":2.05,"v":0.004},{"p":"c2","k":"solid","E":2.11,"v":0.025},{"p":"c2","k":"solid","E":2.17,"v":0.040},{"p":"c2","k":"solid","E":2.24,"v":0.051},{"p":"c2","k":"solid","E":2.30,"v":0.053},{"p":"c2","k":"solid","E":2.36,"v":0.051},{"p":"c2","k":"solid","E":2.42,"v":0.045},{"p":"c2","k":"solid","E":2.48,"v":0.038},{"p":"c2","k":"solid","E":2.54,"v":0.028},{"p":"c2","k":"solid","E":2.60,"v":0.019},{"p":"c2","k":"solid","E":2.66,"v":0.009},{"p":"c2","k":"solid","E":2.73,"v":0.000},{"p":"c2","k":"solid","E":2.79,"v":-0.004},{"p":"c2","k":"solid","E":2.85,"v":-0.006},{"p":"c2","k":"solid","E":2.91,"v":-0.004},{"p":"c2","k":"solid","E":2.97,"v":0.000},{"p":"c2","k":"solid","E":3.05,"v":0.003},{"p":"c2","k":"solid","E":3.12,"v":0.005},{"p":"c2","k":"solid","E":3.20,"v":0.006}
 ]
},
"columns": 3,
"spacing": {"row": 0, "column": 8},
"align": "each",
"resolve": {"scale": {"color": "independent", "shape": "independent", "size": "independent"}},
"concat": [
 {
  "title": {"text": "(a) Substitutional", "font": "Liberation Serif"},
  "width": 171, "height": 171,
  "resolve": {"axis": {"x": "independent", "y": "independent"}},
  "layer": [
   {"data": {"values": [{}]}, "mark": {"type": "rule", "strokeDash": [1.5, 3], "color": "black", "strokeWidth": 1.2}, "encoding": {"y": {"datum": 0, "type": "quantitative", "scale": {"domain": [-0.45, 0.2], "nice": false, "zero": false}, "axis": null}}},
   {"data": {"name": "expT"}, "mark": {"type": "point", "filled": false, "strokeWidth": 1.1, "opacity": 1},
    "encoding": {
     "x": {"field": "E", "type": "quantitative", "scale": {"domain": [1.1, 3.2], "nice": false, "zero": false}, "axis": {"orient": "top", "values": [1.25,1.5,1.75,2,2.25,2.5,2.75,3], "tickSize": {"condition": {"test": "indexof([1.5,2,2.5,3], datum.value) >= 0", "value": -11}, "value": -6}, "labels": false, "title": null}},
     "y": {"field": "v", "type": "quantitative", "scale": {"domain": [-0.45, 0.2], "nice": false, "zero": false}, "axis": {"orient": "right", "values": [0.15,0.075,0,-0.075,-0.15,-0.225,-0.3,-0.375], "tickSize": {"condition": {"test": "indexof([0.15,0,-0.15,-0.3,-0.45], datum.value) >= 0", "value": -10}, "value": -5}, "labels": false, "title": null}},
     "color": {"field": "s", "type": "nominal", "scale": {"domain": ["K","F","M","T"], "range": ["black","red","#22ee22","black"]}, "legend": null},
     "shape": {"field": "s", "type": "nominal", "scale": {"domain": ["K","F","M","T"], "range": ["circle","diamond","square","M-1,-0.18H1V0.18H-1Z"]}, "legend": null},
     "size": {"field": "s", "type": "nominal", "scale": {"domain": ["K","F","M","T"], "range": [12,20,20,60]}, "legend": null}
    }},
   {"data": {"name": "calc"}, "transform": [{"filter": "datum.p == 'a1'"}], "mark": {"type": "line", "color": "black", "strokeWidth": 2, "clip": true},
    "encoding": {
     "x": {"field": "E", "type": "quantitative", "scale": {"domain": [1.1, 3.2], "nice": false, "zero": false}, "axis": {"orient": "bottom", "values": [1.25,1.5,1.75,2,2.25,2.5,2.75,3], "tickSize": {"condition": {"test": "indexof([1.5,2,2.5,3], datum.value) >= 0", "value": -11}, "value": -6}, "labels": false, "title": null}},
     "y": {"field": "v", "type": "quantitative", "scale": {"domain": [-0.45, 0.2], "nice": false, "zero": false}, "axis": {"orient": "left", "values": [0.15,0.075,0,-0.075,-0.15,-0.225,-0.3,-0.375], "tickSize": {"condition": {"test": "indexof([0.15,0,-0.15,-0.3,-0.45], datum.value) >= 0", "value": -10}, "value": -5}, "labelExpr": "indexof([0.15,0,-0.15,-0.3], datum.value) >= 0 ? '' + datum.value : ''", "labelPadding": 18, "labelFont": "Liberation Serif", "titleFont": "Liberation Serif", "title": "θK (deg)", "titlePadding": 10}},
     "strokeDash": {"field": "k", "type": "nominal", "scale": {"domain": ["solid","dashed"], "range": [[1,0],[8,5]]}, "legend": null}
    }}
  ]
 },
 {
  "title": {"text": "(b) Interstitial", "font": "Liberation Serif"},
  "width": 171, "height": 171,
  "resolve": {"axis": {"x": "independent", "y": "independent"}},
  "layer": [
   {"data": {"values": [{}]}, "mark": {"type": "rule", "strokeDash": [1.5, 3], "color": "black", "strokeWidth": 1.2}, "encoding": {"y": {"datum": 0, "type": "quantitative", "scale": {"domain": [-0.45, 0.2], "nice": false, "zero": false}, "axis": null}}},
   {"data": {"name": "expT"}, "mark": {"type": "point", "filled": false, "strokeWidth": 1.1, "opacity": 1},
    "encoding": {
     "x": {"field": "E", "type": "quantitative", "scale": {"domain": [1.1, 3.2], "nice": false, "zero": false}, "axis": {"orient": "top", "values": [1.25,1.5,1.75,2,2.25,2.5,2.75,3], "tickSize": {"condition": {"test": "indexof([1.5,2,2.5,3], datum.value) >= 0", "value": -11}, "value": -6}, "labels": false, "title": null}},
     "y": {"field": "v", "type": "quantitative", "scale": {"domain": [-0.45, 0.2], "nice": false, "zero": false}, "axis": {"orient": "right", "values": [0.15,0.075,0,-0.075,-0.15,-0.225,-0.3,-0.375], "tickSize": {"condition": {"test": "indexof([0.15,0,-0.15,-0.3,-0.45], datum.value) >= 0", "value": -10}, "value": -5}, "labels": false, "title": null}},
     "color": {"field": "s", "type": "nominal", "scale": {"domain": ["K","F","M","T"], "range": ["black","red","#22ee22","black"]}, "legend": null},
     "shape": {"field": "s", "type": "nominal", "scale": {"domain": ["K","F","M","T"], "range": ["circle","diamond","square","M-1,-0.18H1V0.18H-1Z"]}, "legend": null},
     "size": {"field": "s", "type": "nominal", "scale": {"domain": ["K","F","M","T"], "range": [12,20,20,60]}, "legend": null}
    }},
   {"data": {"name": "calc"}, "transform": [{"filter": "datum.p == 'b1'"}], "mark": {"type": "line", "color": "black", "strokeWidth": 2, "clip": true},
    "encoding": {
     "x": {"field": "E", "type": "quantitative", "scale": {"domain": [1.1, 3.2], "nice": false, "zero": false}, "axis": {"orient": "bottom", "values": [1.25,1.5,1.75,2,2.25,2.5,2.75,3], "tickSize": {"condition": {"test": "indexof([1.5,2,2.5,3], datum.value) >= 0", "value": -11}, "value": -6}, "labels": false, "title": null}},
     "y": {"field": "v", "type": "quantitative", "scale": {"domain": [-0.45, 0.2], "nice": false, "zero": false}, "axis": {"orient": "left", "values": [0.15,0.075,0,-0.075,-0.15,-0.225,-0.3,-0.375], "tickSize": {"condition": {"test": "indexof([0.15,0,-0.15,-0.3,-0.45], datum.value) >= 0", "value": -10}, "value": -5}, "labels": false, "title": null}},
     "strokeDash": {"field": "k", "type": "nominal", "scale": {"domain": ["solid","dashed"], "range": [[1,0],[8,5]]}, "legend": null}
    }}
  ]
 },
 {
  "title": {"text": "(c) Mnₛ + As antis", "font": "Liberation Serif"},
  "width": 171, "height": 171,
  "resolve": {"axis": {"x": "independent", "y": "independent"}},
  "layer": [
   {"data": {"values": [{}]}, "mark": {"type": "rule", "strokeDash": [1.5, 3], "color": "black", "strokeWidth": 1.2}, "encoding": {"y": {"datum": 0, "type": "quantitative", "scale": {"domain": [-0.45, 0.2], "nice": false, "zero": false}, "axis": null}}},
   {"data": {"name": "expT"}, "mark": {"type": "point", "filled": false, "strokeWidth": 1.1, "opacity": 1},
    "encoding": {
     "x": {"field": "E", "type": "quantitative", "scale": {"domain": [1.1, 3.2], "nice": false, "zero": false}, "axis": {"orient": "top", "values": [1.25,1.5,1.75,2,2.25,2.5,2.75,3], "tickSize": {"condition": {"test": "indexof([1.5,2,2.5,3], datum.value) >= 0", "value": -11}, "value": -6}, "labels": false, "title": null}},
     "y": {"field": "v", "type": "quantitative", "scale": {"domain": [-0.45, 0.2], "nice": false, "zero": false}, "axis": {"orient": "right", "values": [0.15,0.075,0,-0.075,-0.15,-0.225,-0.3,-0.375], "tickSize": {"condition": {"test": "indexof([0.15,0,-0.15,-0.3,-0.45], datum.value) >= 0", "value": -10}, "value": -5}, "labelExpr": "indexof([0.15,0,-0.15,-0.3], datum.value) >= 0 ? '' + datum.value : ''", "labelPadding": 18, "labelFont": "Liberation Serif", "title": null}},
     "color": {"field": "s", "type": "nominal", "scale": {"domain": ["K","F","M","T"], "range": ["black","red","#22ee22","black"]}, "legend": null},
     "shape": {"field": "s", "type": "nominal", "scale": {"domain": ["K","F","M","T"], "range": ["circle","diamond","square","M-1,-0.18H1V0.18H-1Z"]}, "legend": null},
     "size": {"field": "s", "type": "nominal", "scale": {"domain": ["K","F","M","T"], "range": [12,20,20,60]}, "legend": null}
    }},
   {"data": {"name": "calc"}, "transform": [{"filter": "datum.p == 'c1'"}], "mark": {"type": "line", "color": "black", "strokeWidth": 2, "clip": true},
    "encoding": {
     "x": {"field": "E", "type": "quantitative", "scale": {"domain": [1.1, 3.2], "nice": false, "zero": false}, "axis": {"orient": "bottom", "values": [1.25,1.5,1.75,2,2.25,2.5,2.75,3], "tickSize": {"condition": {"test": "indexof([1.5,2,2.5,3], datum.value) >= 0", "value": -11}, "value": -6}, "labels": false, "title": null}},
     "y": {"field": "v", "type": "quantitative", "scale": {"domain": [-0.45, 0.2], "nice": false, "zero": false}, "axis": {"orient": "left", "values": [0.15,0.075,0,-0.075,-0.15,-0.225,-0.3,-0.375], "tickSize": {"condition": {"test": "indexof([0.15,0,-0.15,-0.3,-0.45], datum.value) >= 0", "value": -10}, "value": -5}, "labels": false, "title": null}},
     "strokeDash": {"field": "k", "type": "nominal", "scale": {"domain": ["solid","dashed"], "range": [[1,0],[8,5]]}, "legend": null}
    }}
  ]
 },
 {
  "width": 171, "height": 171,
  "resolve": {"axis": {"x": "independent", "y": "independent"}},
  "layer": [
   {"data": {"values": [{}]}, "mark": {"type": "rule", "strokeDash": [1.5, 3], "color": "black", "strokeWidth": 1.2}, "encoding": {"y": {"datum": 0, "type": "quantitative", "scale": {"domain": [-0.45, 0.2], "nice": false, "zero": false}, "axis": null}}},
   {"data": {"name": "expB"}, "mark": {"type": "point", "filled": false, "strokeWidth": 1.1, "opacity": 1},
    "encoding": {
     "x": {"field": "E", "type": "quantitative", "scale": {"domain": [1.1, 3.2], "nice": false, "zero": false}, "axis": {"orient": "top", "values": [1.25,1.5,1.75,2,2.25,2.5,2.75,3], "tickSize": {"condition": {"test": "indexof([1.5,2,2.5,3], datum.value) >= 0", "value": -11}, "value": -6}, "labels": false, "title": null}},
     "y": {"field": "v", "type": "quantitative", "scale": {"domain": [-0.45, 0.2], "nice": false, "zero": false}, "axis": {"orient": "right", "values": [0.15,0.075,0,-0.075,-0.15,-0.225,-0.3,-0.375,-0.45], "tickSize": {"condition": {"test": "indexof([0.15,0,-0.15,-0.3,-0.45], datum.value) >= 0", "value": -10}, "value": -5}, "labels": false, "title": null}},
     "color": {"field": "s", "type": "nominal", "scale": {"domain": ["K","F","M","T"], "range": ["black","red","#22ee22","black"]}, "legend": {"title": null, "orient": "bottom-right", "offset": 15, "labelOffset": 11, "rowPadding": 7, "labelFont": "Liberation Serif", "labelFontSize": 14, "labelExpr": "datum.label == 'K' ? 'Kojima et al.' : datum.label == 'F' ? 'Furdyna et al.' : datum.label == 'M' ? 'Munekata' : 'This work'"}},
     "shape": {"field": "s", "type": "nominal", "scale": {"domain": ["K","F","M","T"], "range": ["circle","diamond","square","M-1,-0.18H1V0.18H-1Z"]}, "legend": {"title": null, "orient": "bottom-right", "offset": 15, "labelOffset": 11, "rowPadding": 7, "labelFont": "Liberation Serif", "labelFontSize": 14, "labelExpr": "datum.label == 'K' ? 'Kojima et al.' : datum.label == 'F' ? 'Furdyna et al.' : datum.label == 'M' ? 'Munekata' : 'This work'"}},
     "size": {"field": "s", "type": "nominal", "scale": {"domain": ["K","F","M","T"], "range": [12,20,20,60]}, "legend": {"title": null, "orient": "bottom-right", "offset": 15, "labelOffset": 11, "rowPadding": 7, "labelFont": "Liberation Serif", "labelFontSize": 14, "labelExpr": "datum.label == 'K' ? 'Kojima et al.' : datum.label == 'F' ? 'Furdyna et al.' : datum.label == 'M' ? 'Munekata' : 'This work'"}}
    }},
   {"data": {"name": "calc"}, "transform": [{"filter": "datum.p == 'a2'"}], "mark": {"type": "line", "color": "black", "strokeWidth": 2, "clip": true},
    "encoding": {
     "x": {"field": "E", "type": "quantitative", "scale": {"domain": [1.1, 3.2], "nice": false, "zero": false}, "axis": {"orient": "bottom", "values": [1.25,1.5,1.75,2,2.25,2.5,2.75,3], "tickSize": {"condition": {"test": "indexof([1.5,2,2.5,3], datum.value) >= 0", "value": -11}, "value": -6}, "labelExpr": "indexof([1.5,2,2.5,3], datum.value) >= 0 ? '' + datum.value : ''", "labelPadding": 13, "labelFont": "Liberation Serif", "titleFont": "Liberation Serif", "title": "E (eV)", "titlePadding": -2}},
     "y": {"field": "v", "type": "quantitative", "scale": {"domain": [-0.45, 0.2], "nice": false, "zero": false}, "axis": {"orient": "left", "values": [0.15,0.075,0,-0.075,-0.15,-0.225,-0.3,-0.375,-0.45], "tickSize": {"condition": {"test": "indexof([0.15,0,-0.15,-0.3,-0.45], datum.value) >= 0", "value": -10}, "value": -5}, "labelExpr": "indexof([0.15,0,-0.15,-0.3,-0.45], datum.value) >= 0 ? '' + datum.value : ''", "labelPadding": 18, "labelFont": "Liberation Serif", "titleFont": "Liberation Serif", "title": "εK (deg)", "titlePadding": 10}},
     "strokeDash": {"field": "k", "type": "nominal", "scale": {"domain": ["solid","dashed"], "range": [[1,0],[8,5]]}, "legend": null}
    }}
  ]
 },
 {
  "width": 171, "height": 171,
  "resolve": {"axis": {"x": "independent", "y": "independent"}},
  "layer": [
   {"data": {"values": [{}]}, "mark": {"type": "rule", "strokeDash": [1.5, 3], "color": "black", "strokeWidth": 1.2}, "encoding": {"y": {"datum": 0, "type": "quantitative", "scale": {"domain": [-0.45, 0.2], "nice": false, "zero": false}, "axis": null}}},
   {"data": {"name": "expB"}, "mark": {"type": "point", "filled": false, "strokeWidth": 1.1, "opacity": 1},
    "encoding": {
     "x": {"field": "E", "type": "quantitative", "scale": {"domain": [1.1, 3.2], "nice": false, "zero": false}, "axis": {"orient": "top", "values": [1.25,1.5,1.75,2,2.25,2.5,2.75,3], "tickSize": {"condition": {"test": "indexof([1.5,2,2.5,3], datum.value) >= 0", "value": -11}, "value": -6}, "labels": false, "title": null}},
     "y": {"field": "v", "type": "quantitative", "scale": {"domain": [-0.45, 0.2], "nice": false, "zero": false}, "axis": {"orient": "right", "values": [0.15,0.075,0,-0.075,-0.15,-0.225,-0.3,-0.375,-0.45], "tickSize": {"condition": {"test": "indexof([0.15,0,-0.15,-0.3,-0.45], datum.value) >= 0", "value": -10}, "value": -5}, "labels": false, "title": null}},
     "color": {"field": "s", "type": "nominal", "scale": {"domain": ["K","F","M","T"], "range": ["black","red","#22ee22","black"]}, "legend": null},
     "shape": {"field": "s", "type": "nominal", "scale": {"domain": ["K","F","M","T"], "range": ["circle","diamond","square","M-1,-0.18H1V0.18H-1Z"]}, "legend": null},
     "size": {"field": "s", "type": "nominal", "scale": {"domain": ["K","F","M","T"], "range": [12,20,20,60]}, "legend": null}
    }},
   {"data": {"name": "calc"}, "transform": [{"filter": "datum.p == 'b2'"}], "mark": {"type": "line", "color": "black", "strokeWidth": 2, "clip": true},
    "encoding": {
     "x": {"field": "E", "type": "quantitative", "scale": {"domain": [1.1, 3.2], "nice": false, "zero": false}, "axis": {"orient": "bottom", "values": [1.25,1.5,1.75,2,2.25,2.5,2.75,3], "tickSize": {"condition": {"test": "indexof([1.5,2,2.5,3], datum.value) >= 0", "value": -11}, "value": -6}, "labelExpr": "indexof([1.5,2,2.5,3], datum.value) >= 0 ? '' + datum.value : ''", "labelPadding": 13, "labelFont": "Liberation Serif", "titleFont": "Liberation Serif", "title": "E (eV)", "titlePadding": -2}},
     "y": {"field": "v", "type": "quantitative", "scale": {"domain": [-0.45, 0.2], "nice": false, "zero": false}, "axis": {"orient": "left", "values": [0.15,0.075,0,-0.075,-0.15,-0.225,-0.3,-0.375,-0.45], "tickSize": {"condition": {"test": "indexof([0.15,0,-0.15,-0.3,-0.45], datum.value) >= 0", "value": -10}, "value": -5}, "labels": false, "title": null}},
     "strokeDash": {"field": "k", "type": "nominal", "scale": {"domain": ["solid","dashed"], "range": [[1,0],[8,5]]}, "legend": null}
    }}
  ]
 },
 {
  "width": 171, "height": 171,
  "resolve": {"axis": {"x": "independent", "y": "independent"}},
  "layer": [
   {"data": {"values": [{}]}, "mark": {"type": "rule", "strokeDash": [1.5, 3], "color": "black", "strokeWidth": 1.2}, "encoding": {"y": {"datum": 0, "type": "quantitative", "scale": {"domain": [-0.45, 0.2], "nice": false, "zero": false}, "axis": null}}},
   {"data": {"name": "expB"}, "mark": {"type": "point", "filled": false, "strokeWidth": 1.1, "opacity": 1},
    "encoding": {
     "x": {"field": "E", "type": "quantitative", "scale": {"domain": [1.1, 3.2], "nice": false, "zero": false}, "axis": {"orient": "top", "values": [1.25,1.5,1.75,2,2.25,2.5,2.75,3], "tickSize": {"condition": {"test": "indexof([1.5,2,2.5,3], datum.value) >= 0", "value": -11}, "value": -6}, "labels": false, "title": null}},
     "y": {"field": "v", "type": "quantitative", "scale": {"domain": [-0.45, 0.2], "nice": false, "zero": false}, "axis": {"orient": "right", "values": [0.15,0.075,0,-0.075,-0.15,-0.225,-0.3,-0.375,-0.45], "tickSize": {"condition": {"test": "indexof([0.15,0,-0.15,-0.3,-0.45], datum.value) >= 0", "value": -10}, "value": -5}, "labelExpr": "indexof([0.15,0,-0.15,-0.3,-0.45], datum.value) >= 0 ? '' + datum.value : ''", "labelPadding": 18, "labelFont": "Liberation Serif", "title": null}},
     "color": {"field": "s", "type": "nominal", "scale": {"domain": ["K","F","M","T"], "range": ["black","red","#22ee22","black"]}, "legend": null},
     "shape": {"field": "s", "type": "nominal", "scale": {"domain": ["K","F","M","T"], "range": ["circle","diamond","square","M-1,-0.18H1V0.18H-1Z"]}, "legend": null},
     "size": {"field": "s", "type": "nominal", "scale": {"domain": ["K","F","M","T"], "range": [12,20,20,60]}, "legend": null}
    }},
   {"data": {"name": "calc"}, "transform": [{"filter": "datum.p == 'c2'"}], "mark": {"type": "line", "color": "black", "strokeWidth": 2, "clip": true},
    "encoding": {
     "x": {"field": "E", "type": "quantitative", "scale": {"domain": [1.1, 3.2], "nice": false, "zero": false}, "axis": {"orient": "bottom", "values": [1.25,1.5,1.75,2,2.25,2.5,2.75,3], "tickSize": {"condition": {"test": "indexof([1.5,2,2.5,3], datum.value) >= 0", "value": -11}, "value": -6}, "labelExpr": "indexof([1.5,2,2.5,3], datum.value) >= 0 ? '' + datum.value : ''", "labelPadding": 13, "labelFont": "Liberation Serif", "titleFont": "Liberation Serif", "title": "E (eV)", "titlePadding": -2}},
     "y": {"field": "v", "type": "quantitative", "scale": {"domain": [-0.45, 0.2], "nice": false, "zero": false}, "axis": {"orient": "left", "values": [0.15,0.075,0,-0.075,-0.15,-0.225,-0.3,-0.375,-0.45], "tickSize": {"condition": {"test": "indexof([0.15,0,-0.15,-0.3,-0.45], datum.value) >= 0", "value": -10}, "value": -5}, "labels": false, "title": null}},
     "strokeDash": {"field": "k", "type": "nominal", "scale": {"domain": ["solid","dashed"], "range": [[1,0],[8,5]]}, "legend": null}
    }}
  ]
 }
]
}
